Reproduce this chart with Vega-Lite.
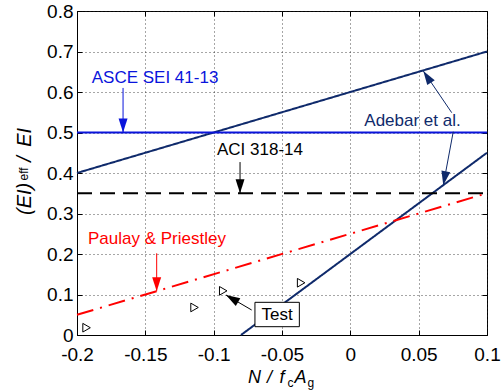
{
  "$schema": "https://vega.github.io/schema/vega-lite/v6.json",
  "width": 410,
  "height": 324,
  "autosize": "none",
  "padding": {"left": 77, "top": 11, "right": 14, "bottom": 56},
  "config": {
    "view": {"stroke": "#000", "strokeWidth": 1},
    "axis": {"domainColor": "#000", "tickColor": "#000", "labelColor": "#000", "labelFont": "Liberation Sans", "labelFontSize": 19}
  },
  "datasets": {
    "lines": [
      {"s": "adebar1", "who": "adebar", "x": -0.2, "y": 0.4},
      {"s": "adebar1", "who": "adebar", "x": 0.1, "y": 0.7},
      {"s": "adebar2", "who": "adebar", "x": -0.08, "y": 0},
      {"s": "adebar2", "who": "adebar", "x": 0.1, "y": 0.45},
      {"s": "asce", "who": "asce", "x": -0.2, "y": 0.5},
      {"s": "asce", "who": "asce", "x": 0.1, "y": 0.5},
      {"s": "aci", "who": "aci", "x": -0.2, "y": 0.35},
      {"s": "aci", "who": "aci", "x": 0.1, "y": 0.35},
      {"s": "paulay", "who": "paulay", "x": -0.2, "y": 0.05},
      {"s": "paulay", "who": "paulay", "x": 0.1, "y": 0.35}
    ],
    "tests": [
      {"x": -0.193, "y": 0.018},
      {"x": -0.114, "y": 0.068},
      {"x": -0.093, "y": 0.109},
      {"x": -0.036, "y": 0.129}
    ],
    "arrows": [
      {"who": "asce", "x": -0.1663, "y": 0.61, "x2": -0.1663, "y2": 0.5},
      {"who": "aci", "x": -0.0807, "y": 0.427, "x2": -0.0807, "y2": 0.35},
      {"who": "adebar", "x": 0.0742, "y": 0.5489, "x2": 0.0534, "y2": 0.652},
      {"who": "adebar", "x": 0.0753, "y": 0.502, "x2": 0.068, "y2": 0.37},
      {"who": "paulay", "x": -0.1417, "y": 0.2017, "x2": -0.1417, "y2": 0.108},
      {"who": "test", "x": -0.0722, "y": 0.0617, "x2": -0.091, "y2": 0.0988}
    ],
    "heads": [
      {"who": "asce", "x": -0.1663, "y": 0.5, "dir": 180},
      {"who": "aci", "x": -0.0807, "y": 0.35, "dir": 180},
      {"who": "adebar", "x": 0.0534, "y": 0.652, "dir": 326.7},
      {"who": "adebar", "x": 0.068, "y": 0.37, "dir": 190.6},
      {"who": "paulay", "x": -0.1417, "y": 0.108, "dir": 180},
      {"who": "test", "x": -0.091, "y": 0.0988, "dir": 300.3}
    ],
    "labels": [
      {"t": "ASCE SEI 41-13", "who": "asce", "x": -0.1429, "y": 0.6353},
      {"t": "ACI 318-14", "who": "aci", "x": -0.0661, "y": 0.4568},
      {"t": "Adebar et al.", "who": "adebar", "x": 0.0455, "y": 0.529},
      {"t": "Paulay & Priestley", "who": "paulay", "x": -0.1415, "y": 0.2363},
      {"t": "Test", "who": "test", "x": -0.0535, "y": 0.0506}
    ],
    "box": [
      {"x": -0.0698, "x2": -0.0373, "y": 0.0807, "y2": 0.0205}
    ],
    "xtitle": [
      {"t": "N", "x": -0.07488, "y": -0.1193},
      {"t": "/", "x": -0.06098, "y": -0.1193},
      {"t": "f", "x": -0.05183, "y": -0.1193},
      {"t": "A", "x": -0.04085, "y": -0.1193}
    ],
    "xsub": [
      {"t": "c", "x": -0.04598, "y": -0.1272},
      {"t": "g", "x": -0.03134, "y": -0.1272}
    ],
    "ytitle": [
      {"t": "(EI)", "x": -0.23402, "y": 0.2963},
      {"t": "/", "x": -0.23402, "y": 0.4279},
      {"t": "EI", "x": -0.23402, "y": 0.4649}
    ],
    "ysub": [
      {"t": "eff", "x": -0.23549, "y": 0.3815}
    ]
  },
  "resolve": {"axis": {"x": "independent", "y": "independent"}},
  "layer": [
    {
      "data": {"name": "lines"},
      "mark": {"type": "line", "strokeWidth": 2},
      "encoding": {
        "x": {"field": "x", "type": "quantitative",
          "scale": {"domain": [-0.2, 0.1], "nice": false, "zero": false},
          "axis": {"orient": "bottom", "values": [-0.2, -0.15, -0.1, -0.05, 0, 0.05, 0.1], "title": null,
            "labelExpr": "'' + datum.value", "grid": true, "gridDash": [1, 3], "gridColor": "#222", "gridOpacity": 0.8,
            "tickSize": -5, "labelPadding": 15, "labelFlush": false, "labelOverlap": false}},
        "y": {"field": "y", "type": "quantitative",
          "scale": {"domain": [0, 0.8], "nice": false, "zero": false},
          "axis": {"orient": "left", "values": [0, 0.1, 0.2, 0.3, 0.4, 0.5, 0.6, 0.7, 0.8], "title": null,
            "labelExpr": "'' + datum.value", "grid": true, "gridDash": [1, 3], "gridColor": "#222", "gridOpacity": 0.8,
            "tickSize": -5, "labelPadding": 9, "labelFlush": false, "labelOverlap": false}},
        "detail": {"field": "s"},
        "color": {"field": "who", "type": "nominal", "legend": null,
          "scale": {"domain": ["adebar", "asce", "aci", "paulay", "test"], "range": ["#0f2a6b", "#0a14dc", "#000000", "#ff0000", "#000000"]}},
        "strokeDash": {"field": "who", "type": "nominal", "legend": null,
          "scale": {"domain": ["adebar", "asce", "aci", "paulay"], "range": [[1, 0], [1, 0], [15, 8], [17, 7, 2, 7]]}}
      }
    },
    {
      "data": {"name": "lines"},
      "mark": {"type": "point", "opacity": 0},
      "encoding": {
        "x": {"field": "x", "type": "quantitative",
          "scale": {"domain": [-0.2, 0.1], "nice": false, "zero": false},
          "axis": {"orient": "top", "values": [-0.2, -0.15, -0.1, -0.05, 0, 0.05, 0.1], "title": null,
            "labels": false, "grid": false, "domain": false, "tickSize": -5}},
        "y": {"field": "y", "type": "quantitative",
          "scale": {"domain": [0, 0.8], "nice": false, "zero": false},
          "axis": {"orient": "right", "values": [0, 0.1, 0.2, 0.3, 0.4, 0.5, 0.6, 0.7, 0.8], "title": null,
            "labels": false, "grid": false, "domain": false, "tickSize": -5}}
      }
    },
    {
      "data": {"name": "tests"},
      "mark": {"type": "point", "shape": "triangle-right", "filled": false, "color": "#000", "strokeWidth": 1, "size": 75, "opacity": 1},
      "encoding": {
        "x": {"field": "x", "type": "quantitative", "scale": {"domain": [-0.2, 0.1], "nice": false, "zero": false}, "axis": null},
        "y": {"field": "y", "type": "quantitative", "scale": {"domain": [0, 0.8], "nice": false, "zero": false}, "axis": null}
      }
    },
    {
      "data": {"name": "arrows"},
      "mark": {"type": "rule", "strokeWidth": 1},
      "encoding": {
        "x": {"field": "x", "type": "quantitative", "scale": {"domain": [-0.2, 0.1], "nice": false, "zero": false}, "axis": null},
        "y": {"field": "y", "type": "quantitative", "scale": {"domain": [0, 0.8], "nice": false, "zero": false}, "axis": null},
        "x2": {"field": "x2"},
        "y2": {"field": "y2"},
        "color": {"field": "who", "type": "nominal", "legend": null}
      }
    },
    {
      "data": {"name": "heads"},
      "mark": {"type": "point", "shape": "M0,0L-0.64,2L0.64,2Z", "filled": true, "opacity": 1, "size": 196},
      "encoding": {
        "x": {"field": "x", "type": "quantitative", "scale": {"domain": [-0.2, 0.1], "nice": false, "zero": false}, "axis": null},
        "y": {"field": "y", "type": "quantitative", "scale": {"domain": [0, 0.8], "nice": false, "zero": false}, "axis": null},
        "angle": {"field": "dir", "type": "quantitative", "scale": null},
        "color": {"field": "who", "type": "nominal", "legend": null}
      }
    },
    {
      "data": {"name": "box"},
      "mark": {"type": "rect", "fill": "#fff", "stroke": "#000", "strokeWidth": 1},
      "encoding": {
        "x": {"field": "x", "type": "quantitative", "scale": {"domain": [-0.2, 0.1], "nice": false, "zero": false}, "axis": null},
        "y": {"field": "y", "type": "quantitative", "scale": {"domain": [0, 0.8], "nice": false, "zero": false}, "axis": null},
        "x2": {"field": "x2"},
        "y2": {"field": "y2"}
      }
    },
    {
      "data": {"name": "labels"},
      "mark": {"type": "text", "font": "Liberation Sans", "fontSize": 17, "align": "center", "baseline": "middle"},
      "encoding": {
        "x": {"field": "x", "type": "quantitative", "scale": {"domain": [-0.2, 0.1], "nice": false, "zero": false}, "axis": null},
        "y": {"field": "y", "type": "quantitative", "scale": {"domain": [0, 0.8], "nice": false, "zero": false}, "axis": null},
        "text": {"field": "t"},
        "color": {"field": "who", "type": "nominal", "legend": null}
      }
    },
    {
      "data": {"name": "xtitle"},
      "mark": {"type": "text", "font": "Liberation Sans", "fontSize": 18, "fontStyle": "italic", "align": "left", "baseline": "alphabetic", "color": "#000"},
      "encoding": {
        "x": {"field": "x", "type": "quantitative", "scale": {"domain": [-0.2, 0.1], "nice": false, "zero": false}, "axis": null},
        "y": {"field": "y", "type": "quantitative", "scale": {"domain": [0, 0.8], "nice": false, "zero": false}, "axis": null},
        "text": {"field": "t"}
      }
    },
    {
      "data": {"name": "xsub"},
      "mark": {"type": "text", "font": "Liberation Sans", "fontSize": 12, "align": "left", "baseline": "alphabetic", "color": "#000"},
      "encoding": {
        "x": {"field": "x", "type": "quantitative", "scale": {"domain": [-0.2, 0.1], "nice": false, "zero": false}, "axis": null},
        "y": {"field": "y", "type": "quantitative", "scale": {"domain": [0, 0.8], "nice": false, "zero": false}, "axis": null},
        "text": {"field": "t"}
      }
    },
    {
      "data": {"name": "ytitle"},
      "mark": {"type": "text", "font": "Liberation Sans", "fontSize": 20, "fontStyle": "italic", "align": "left", "baseline": "alphabetic", "angle": 270, "color": "#000"},
      "encoding": {
        "x": {"field": "x", "type": "quantitative", "scale": {"domain": [-0.2, 0.1], "nice": false, "zero": false}, "axis": null},
        "y": {"field": "y", "type": "quantitative", "scale": {"domain": [0, 0.8], "nice": false, "zero": false}, "axis": null},
        "text": {"field": "t"}
      }
    },
    {
      "data": {"name": "ysub"},
      "mark": {"type": "text", "font": "Liberation Sans", "fontSize": 12, "align": "left", "baseline": "alphabetic", "angle": 270, "color": "#000"},
      "encoding": {
        "x": {"field": "x", "type": "quantitative", "scale": {"domain": [-0.2, 0.1], "nice": false, "zero": false}, "axis": null},
        "y": {"field": "y", "type": "quantitative", "scale": {"domain": [0, 0.8], "nice": false, "zero": false}, "axis": null},
        "text": {"field": "t"}
      }
    }
  ]
}
